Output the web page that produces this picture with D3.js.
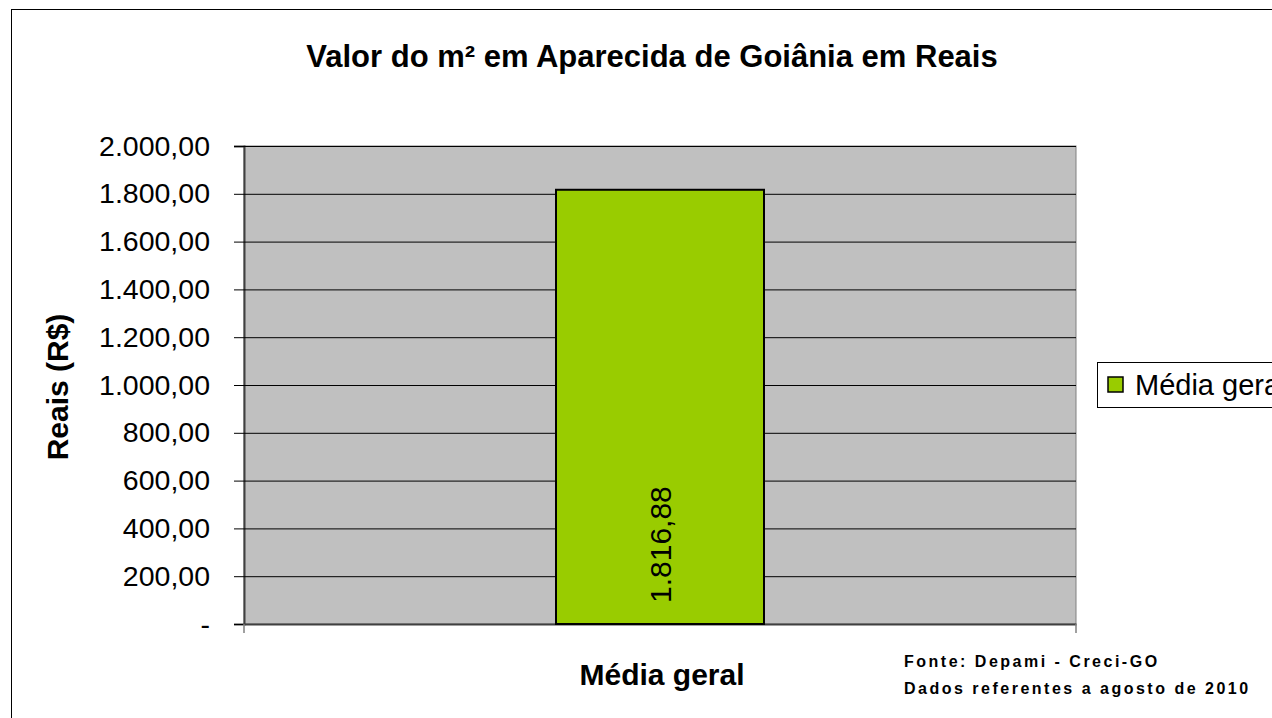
<!DOCTYPE html>
<html>
<head>
<meta charset="utf-8">
<script src="https://cdn.jsdelivr.net/npm/d3@7"></script>
<style>
  body { margin: 0; background: #fff; }
  svg { font-family: Arial, "Liberation Sans", sans-serif; }
</style>
</head>
<body>
<div id="chart"></div>
<script>
// Chart data
const categories = ["Média geral"];
const values = [1816.88];
const seriesName = "Média geral";
const yTicks = [0, 200, 400, 600, 800, 1000, 1200, 1400, 1600, 1800, 2000];

const w = 1272;
const h = 718;
const plot = { left: 244, right: 1076, top: 146, bottom: 624 };

// pt-BR number format: 1.816,88
const ptBR = d3.formatLocale({ decimal: ",", thousands: ".", grouping: [3], currency: ["R$", ""] });
const fmt = ptBR.format(",.2f");

const svg = d3.select("#chart")
  .append("svg")
  .attr("width", w)
  .attr("height", h)
  .attr("viewBox", [0, 0, w, h]);

// outer chart border
svg.append("rect")
  .attr("x", 11.5).attr("y", 9.5)
  .attr("width", w + 20).attr("height", h + 20)
  .attr("fill", "#fff").attr("stroke", "#000").attr("stroke-width", 1);

const x = d3.scaleBand(categories, [plot.left, plot.right]).paddingInner(0).paddingOuter(0);
const y = d3.scaleLinear([0, 2000], [plot.bottom, plot.top]);

// plot background
svg.append("rect")
  .attr("x", plot.left).attr("y", plot.top)
  .attr("width", plot.right - plot.left).attr("height", plot.bottom - plot.top)
  .attr("fill", "#c0c0c0").attr("stroke", "#808080");

// gridlines + y axis
svg.append("g")
  .attr("transform", `translate(${plot.left},0)`)
  .call(d3.axisLeft(y).tickValues(yTicks).tickSize(10).tickPadding(10)
    .tickFormat(d => d === 0 ? "-" : fmt(d)))
  .call(g => g.select(".domain").attr("stroke", "#404040").attr("stroke-width", 2))
  .call(g => g.selectAll(".tick line").attr("stroke", "#000"))
  .call(g => g.selectAll(".tick line").clone()
    .attr("x2", plot.right - plot.left).attr("stroke", "#000"))
  .call(g => g.selectAll(".tick text")
    .attr("font-size", 28.5).attr("fill", "#000").attr("x", -34));

// x axis
svg.append("g")
  .attr("transform", `translate(0,${plot.bottom})`)
  .call(d3.axisBottom(x).tickSize(0).tickFormat(""))
  .call(g => g.select(".domain").attr("stroke", "#404040").attr("stroke-width", 2));

svg.append("g")
  .selectAll("line")
  .data([plot.left, plot.right])
  .join("line")
  .attr("x1", d => d).attr("x2", d => d)
  .attr("y1", plot.bottom).attr("y2", plot.bottom + 9)
  .attr("stroke", "#808080").attr("stroke-width", 1.5);

// bar
const barW = 208;
svg.append("g")
  .selectAll("rect")
  .data(values)
  .join("rect")
  .attr("x", (d, i) => x(categories[i]) + x.bandwidth() / 2 - barW / 2)
  .attr("y", d => y(d))
  .attr("width", barW)
  .attr("height", d => y(0) - y(d))
  .attr("fill", "#99cc00")
  .attr("stroke", "#000")
  .attr("stroke-width", 2);

// bar label (rotated, sits near the base of the bar)
svg.append("g")
  .selectAll("text")
  .data(values)
  .join("text")
  .attr("transform", (d, i) => `translate(${x(categories[i]) + x.bandwidth() / 2 + 11},${y(0) - 21}) rotate(-90)`)
  .attr("text-anchor", "start")
  .attr("font-size", 30)
  .attr("fill", "#000")
  .text(d => fmt(d));

// title
svg.append("text")
  .attr("x", 652).attr("y", 67)
  .attr("text-anchor", "middle")
  .attr("font-size", 31).attr("font-weight", "bold")
  .text("Valor do m² em Aparecida de Goiânia em Reais");

// y axis title
svg.append("text")
  .attr("transform", "translate(68,387) rotate(-90)")
  .attr("text-anchor", "middle")
  .attr("font-size", 30).attr("font-weight", "bold")
  .text("Reais (R$)");

// x category label
svg.append("text")
  .attr("x", x(categories[0]) + x.bandwidth() / 2 + 2).attr("y", 685)
  .attr("text-anchor", "middle")
  .attr("font-size", 30).attr("font-weight", "bold")
  .text(categories[0]);

// legend
const legend = svg.append("g").attr("transform", "translate(1097,362)");
legend.append("rect")
  .attr("x", 0.5).attr("y", 0.5).attr("width", 220).attr("height", 45)
  .attr("fill", "#fff").attr("stroke", "#000");
legend.append("rect")
  .attr("x", 11).attr("y", 15).attr("width", 15).attr("height", 15)
  .attr("fill", "#99cc00").attr("stroke", "#000").attr("stroke-width", 1.5);
legend.append("text")
  .attr("x", 38).attr("y", 33)
  .attr("font-size", 29)
  .text(seriesName);

// source note
const note = svg.append("g").attr("font-size", 16).attr("font-weight", "bold").attr("letter-spacing", 2.5);
note.append("text").attr("x", 904).attr("y", 667).text("Fonte: Depami - Creci-GO");
note.append("text").attr("x", 904).attr("y", 694).text("Dados referentes a agosto de 2010");
</script>
</body>
</html>
